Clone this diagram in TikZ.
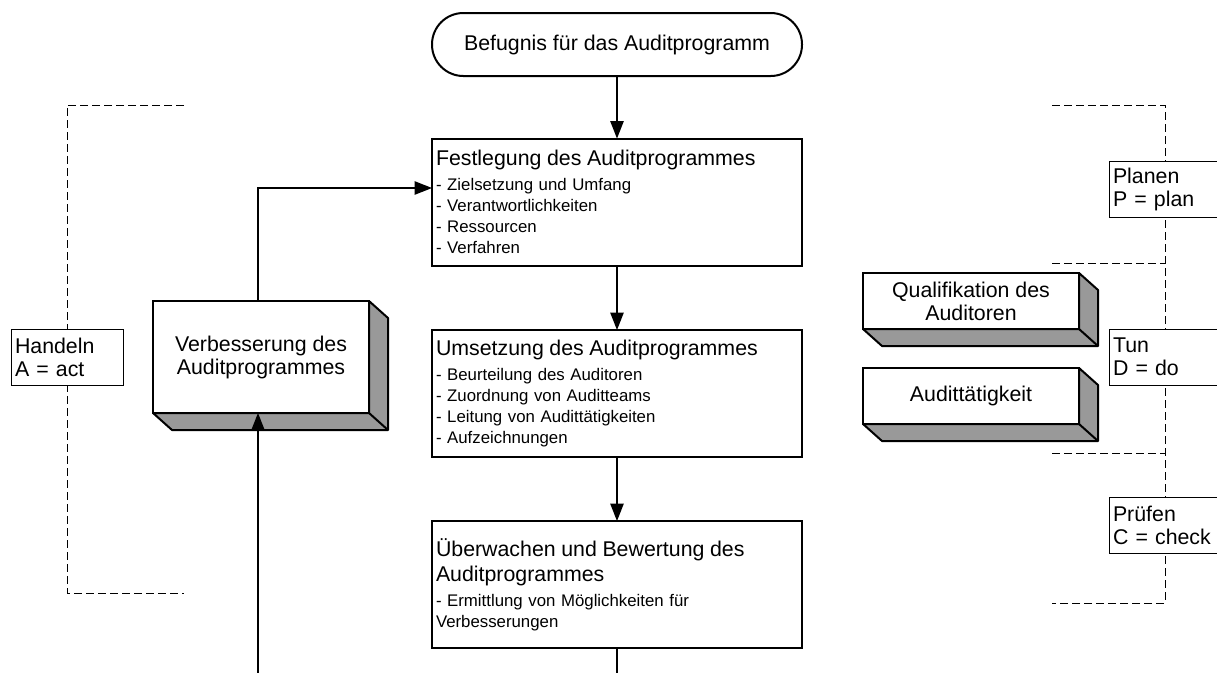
\documentclass[tikz,border=0pt]{standalone}
\usepackage{fontspec}
\setmainfont{Liberation Sans}
\usepackage{xcolor}
\usetikzlibrary{arrows.meta,calc}

\definecolor{sidegray}{HTML}{999999}
\newcommand{\bigtxt}{\fontsize{16}{17.25}\selectfont}
\newcommand{\smalltxt}{\fontsize{12.6}{15.75}\selectfont}

\tikzset{
  flowbox/.style={draw, line width=1.5pt, fill=white, outer sep=0pt, inner xsep=3pt,
    text width=271.5pt, minimum height=95.25pt, align=left, font=\smalltxt},
  startbox/.style={draw, line width=1.5pt, fill=white, outer sep=0pt, rounded corners=23.5pt,
    minimum width=277.5pt, minimum height=47.25pt, font=\bigtxt},
  phasebox/.style={draw, line width=0.75pt, fill=white, outer sep=0pt, inner xsep=3pt,
    text width=78pt, minimum height=42pt, align=left, font=\bigtxt},
  solidbox/.style={draw, line width=1.5pt, fill=white, outer sep=0pt,
    minimum width=162pt, minimum height=42pt, align=center, font=\bigtxt},
  sideface/.style={fill=sidegray, draw=black, line width=1.5pt, line join=round},
  bracket/.style={line width=0.75pt, dash pattern=on 6pt off 3pt},
  flowarrow/.style={line width=1pt, -{Triangle[length=13pt,width=10pt]}},
}

\begin{document}
\begin{tikzpicture}[x=0.75pt, y=-0.75pt]
    \useasboundingbox (0,0) rectangle (1217,672);
    \fill[white] (0,0) rectangle (1217,672);
    \clip (0,0) rectangle (1217,672);

    % PDCA brackets
    \draw[bracket] (184,105) -| (67,593) -- (184,593);
    \draw[bracket] (1052,105) -| (1165,603) -- (1052,603);
    \draw[bracket] (1052,263) -- (1165,263);
    \draw[bracket] (1052,453) -- (1165,453);

    % Phase labels
    \node[phasebox] (act) at (67,357) {Handeln\\A = act};
    \node[phasebox] (plan) at (1165,189) {Planen\\P = plan};
    \node[phasebox] (do) at (1165,357) {Tun\\D = do};
    \node[phasebox] (check) at (1165,525) {Prüfen\\C = check};

    % Main flow
    \node[startbox] (start) at (617,44.5) {Befugnis für das Auditprogramm};
    \node[flowbox] (fest) at (617,202) {{\bigtxt Festlegung des Auditprogrammes}\\[3pt]
        - Zielsetzung und Umfang\\ - Verantwortlichkeiten\\ - Ressourcen\\ - Verfahren};
    \node[flowbox] (umset) at (617,393.5) {{\bigtxt Umsetzung des Auditprogrammes}\\[3pt]
        - Beurteilung des Auditoren\\ - Zuordnung von Auditteams\\ - Leitung von Audittätigkeiten\\ - Aufzeichnungen};
    \node[flowbox] (ueber) at (617,584.5) {{\bigtxt Überwachen und Bewertung des}\\[3pt]
        {\bigtxt Auditprogrammes}\\[3pt] - Ermittlung von Möglichkeiten für\\ Verbesserungen};

    % 3D boxes
    \node[solidbox, minimum height=84pt] (verb) at (261,357) {Verbesserung des\\Auditprogrammes};
    \node[solidbox] (qual) at (971,301) {Qualifikation des\\Auditoren};
    \node[solidbox] (audit) at (971,396) {Audittätigkeit};
    \foreach \n in {verb,qual,audit} {
        \draw[sideface] (\n.north east) -- ++(19,17) -- ($(\n.south east)+(19,17)$)
            -- ($(\n.south west)+(19,17)$) -- (\n.south west) -- (\n.south east) -- cycle;
        \draw[line width=1.5pt] (\n.south east) -- ++(19,17);
    }

    % Connectors
    \draw[flowarrow] (start) -- (fest);
    \draw[flowarrow] (fest) -- (umset);
    \draw[flowarrow] (umset) -- (ueber);
    \coordinate (loopL) at (258,690);
    \coordinate (loopR) at (617,690);
    \draw[line width=1pt] (ueber) -- (loopR);
    \draw[flowarrow] (loopL) -- (loopL |- verb.south);
    \draw[flowarrow] (loopL |- verb.north) |- ($(fest.west)+(0,-14)$);
\end{tikzpicture}
\end{document}
